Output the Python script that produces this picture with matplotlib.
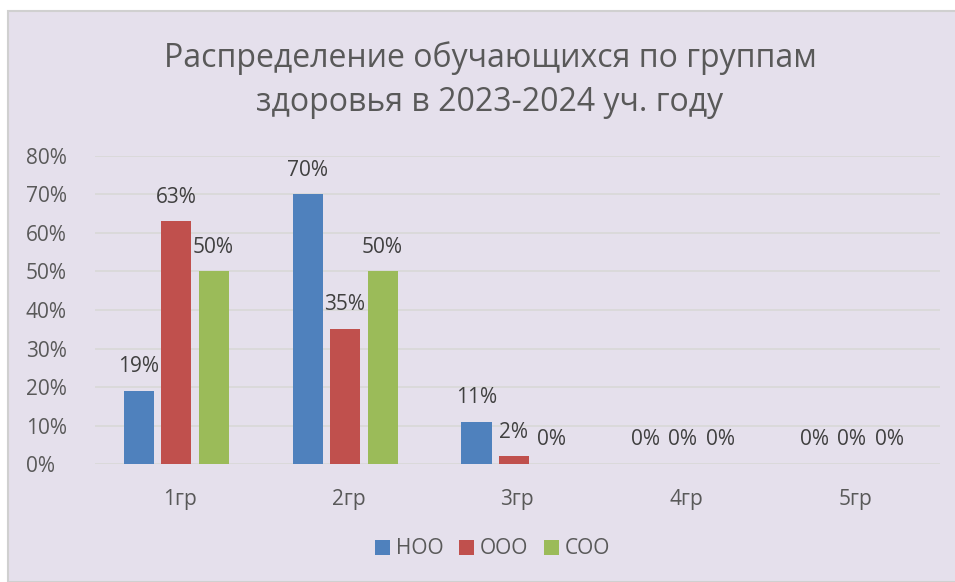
import numpy as np
import matplotlib.pyplot as plt
from matplotlib.patches import Rectangle

plt.rcParams['font.family'] = ['Open Sans', 'DejaVu Sans']

# данные
groups = ['1гр', '2гр', '3гр', '4гр', '5гр']
series = ['НОО', 'ООО', 'СОО']
noo = [19, 70, 11, 0, 0]
ooo = [63, 35, 2, 0, 0]
soo = [50, 50, 0, 0, 0]
colors = ['#4F81BD', '#C0504D', '#9BBB59']
yticks = [0, 10, 20, 30, 40, 50, 60, 70, 80]

bg = '#E5E0EC'
txt = '#595959'

fig = plt.figure(figsize=(9.55, 5.82), dpi=100, facecolor='white')
# фон области диаграммы
fig.patches.append(Rectangle((8 / 955, 0), 1, 1 - 11 / 582, transform=fig.transFigure,
                             facecolor=bg, edgecolor='#D0D0D0', linewidth=1.5, zorder=-5))

ax = fig.add_axes([0.0995, 0.2027, 0.8845, 0.5293])
ax.set_facecolor(bg)
ax.set_zorder(2)

x = np.arange(len(groups))
w = 0.178
step = 0.222
for i, (vals, c) in enumerate(zip([noo, ooo, soo], colors)):
    pos = x + (i - 1) * step - 0.02
    bars = ax.bar(pos, vals, width=w, color=c, label=series[i], zorder=3)
    for b, v in zip(bars, vals):
        ax.annotate(f'{v}%', (b.get_x() + b.get_width() / 2, v), xytext=(0, 17.5),
                    textcoords='offset points', ha='center', va='center',
                    fontsize=15, color='#404040')

ax.set_xlim(-0.5, 4.5)
ax.set_ylim(0, 80)
ax.set_yticks(yticks)
ax.set_yticklabels([f'{t}%' for t in yticks])
ax.set_xticks(x)
ax.set_xticklabels(groups)
ax.grid(axis='y', color='#D9D9D9', linewidth=1.3, zorder=0)
for s in ax.spines.values():
    s.set_visible(False)
ax.tick_params(axis='both', length=0, labelsize=15, labelcolor=txt)
ax.tick_params(axis='y', pad=50)
ax.tick_params(axis='x', pad=18)
for lbl in ax.get_yticklabels():
    lbl.set_horizontalalignment('left')

fig.text(0.513, 0.862, 'Распределение обучающихся по группам\nздоровья в 2023-2024 уч. году',
         ha='center', va='center', fontsize=23, color=txt, linespacing=1.42)

ax.legend(loc='center', bbox_to_anchor=(0.516, 1 - 549 / 582), bbox_transform=fig.transFigure,
          ncol=3, frameon=False, fontsize=15, labelcolor=txt, handlelength=0.7,
          handleheight=0.7, handletextpad=0.3, columnspacing=0.75)

plt.savefig('out.png', dpi=100, facecolor='white')
